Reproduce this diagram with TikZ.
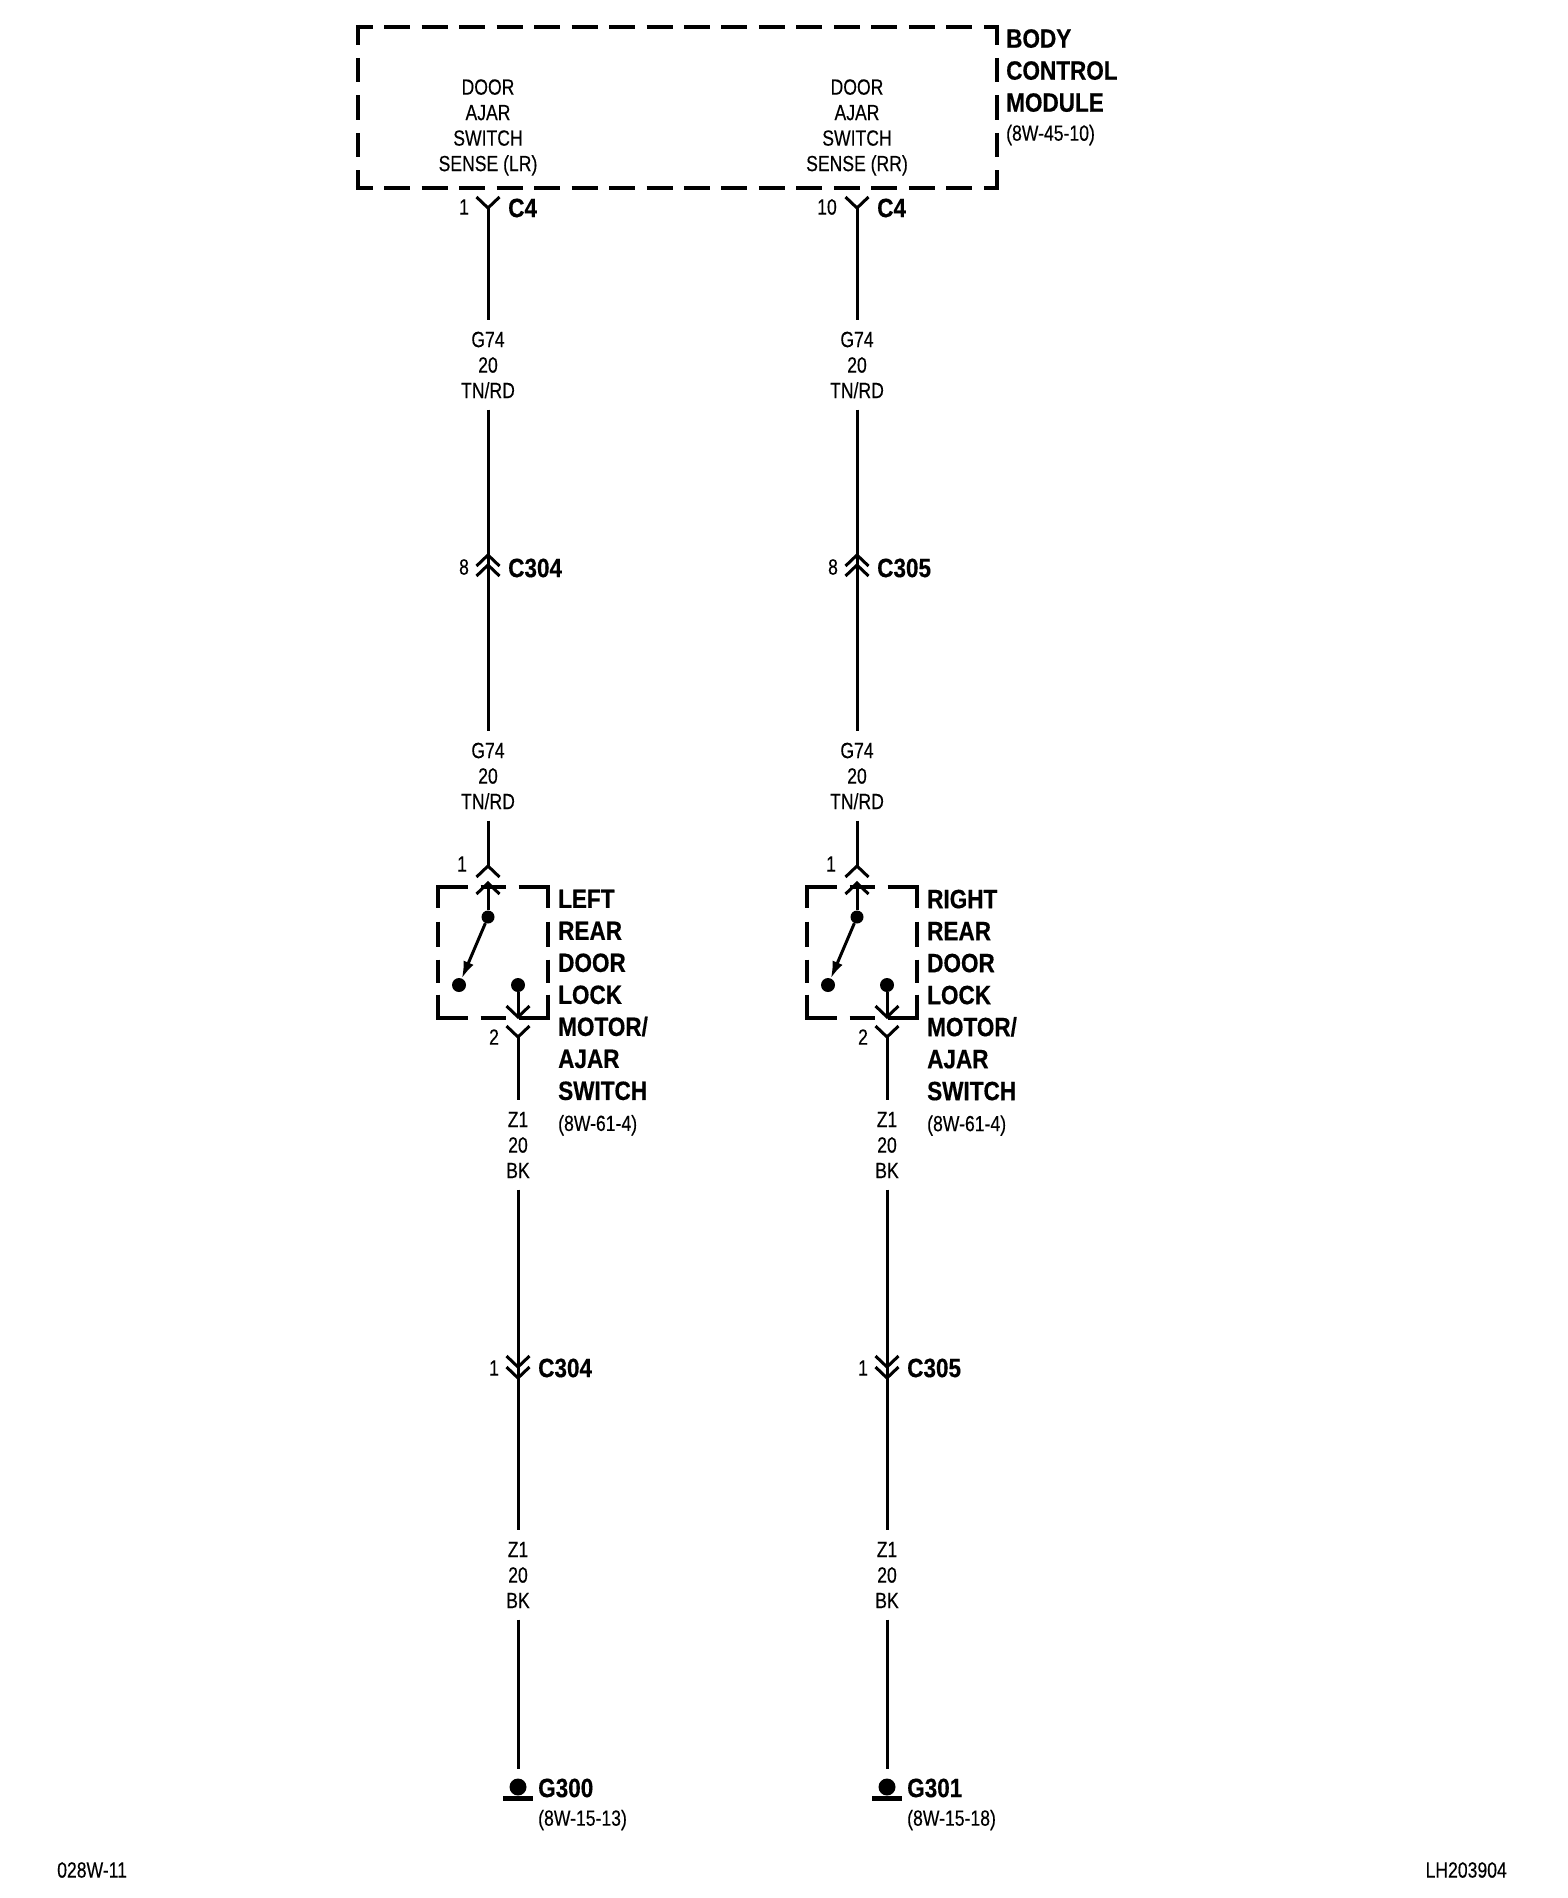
\documentclass[tikz,border=0pt]{standalone}
\usepackage{fontspec}
\setmainfont{Liberation Sans}[FakeStretch=0.8, FakeBold=0.25, BoldFeatures={FakeStretch=0.85, FakeBold=0.4}]
\usetikzlibrary{positioning,arrows.meta}
\tikzset{
  wire/.style = {line width = 3pt},
  tipwire/.style = {wire, -{Latex[length = 17pt, width = 11pt]}},
  bcmh/.style = {line width = 4.5pt, dash pattern = on 26pt off 11.47pt, dash phase = 9pt},
  bcmv/.style = {line width = 4.5pt, dash pattern = on 24.5pt off 13pt, dash phase = 4.5pt},
  swh/.style = {line width = 4.5pt, dash pattern = on 32pt off 12.5pt on 25pt off 13pt on 40pt},
  swv/.style = {line width = 4.5pt, dash pattern = on 23pt off 13.5pt on 25pt off 13pt on 23pt off 12pt on 30pt},
  small/.style = {inner sep = 0pt, font = \fontsize{22}{25.5}\selectfont},
  heavy/.style = {inner sep = 0pt, font = \fontsize{26.5}{32}\bfseries\selectfont},
  wirelab/.style = {small, align = center, minimum height = 89pt, minimum width = 50pt},
  contact/.style = {circle, fill, inner sep = 0pt, minimum size = 14pt},
  earth/.style = {circle, fill, inner sep = 0pt, minimum size = 17pt},
  forkdn/.pic = {\draw[wire] (-11.5,-11) -- (0,0) -- (11.5,-11);},
  forkup/.pic = {\draw[wire] (-11.5,11) -- (0,0) -- (11.5,11);},
}
\begin{document}
\begin{tikzpicture}[x = 1pt, y = -1pt]
\useasboundingbox (0,0) rectangle (1568,1898);
\draw[bcmh] (355.75,27) -- (999.25,27);
\draw[bcmh] (355.75,188) -- (999.25,188);
\draw[bcmv] (358,24.75) -- (358,190.25);
\draw[bcmv] (997,24.75) -- (997,190.25);
\node[small, align = center] (sensel) at (488,127.5) {DOOR\\AJAR\\SWITCH\\SENSE (LR)};
\node[small, align = center] (senser) at (857,127.5) {DOOR\\AJAR\\SWITCH\\SENSE (RR)};
\node[heavy, align = left, anchor = north west] (bcm) at (1006,29) {BODY\\CONTROL\\MODULE\\[-3pt]\fontsize{22}{25.5}\mdseries\selectfont (8W-45-10)};

\coordinate (c4l) at (488,208);
\pic at (c4l) {forkdn};
\node[small] (c4lpin) at (464,207) {1};
\node[heavy, anchor = west] (c4llab) at (508,208) {C4};
\node[wirelab] (g74la) at (488,365) {G74\\20\\TN/RD};
\coordinate (c304la) at (488,555);
\coordinate (c304lb) at (488,565);
\pic at (c304la) {forkup};
\pic at (c304lb) {forkup};
\node[small] (c304lpin) at (464,567) {8};
\node[heavy, anchor = west] (c304llab) at (508,568) {C304};
\node[wirelab] (g74lb) at (488,776) {G74\\20\\TN/RD};
\coordinate (swlt) at (488,866);
\coordinate (swlu) at (488,883);
\pic at (swlt) {forkup};
\pic at (swlu) {forkup};
\node[small] (swlpina) at (462,864) {1};
\draw[wire] (c4l) -- (g74la) -- (c304la);
\draw[wire] (c304la) -- (g74lb) -- (swlt);

\draw[swh] (436,887) -- (550,887);
\draw[swh] (436,1018) -- (550,1018);
\draw[swv] (438,885) -- (438,1020);
\draw[swv] (548,885) -- (548,1020);
\node[contact, minimum size = 13pt] (swlc) at (488,917) {};
\node[contact] (swln) at (459,985) {};
\node[contact] (swlm) at (518,985) {};
\draw[wire] (swlu) -- (swlc);
\draw[tipwire] (swlc) -- (swln);
\coordinate (swlb) at (518,1017);
\pic at (swlb) {forkdn};
\draw[wire] (swlm) -- (swlb);
\coordinate (swld) at (518,1037);
\pic at (swld) {forkdn};
\node[small] (swlpinb) at (494,1037) {2};
\node[heavy, align = left, anchor = north west] (swllab) at (558,889.5) {LEFT\\REAR\\DOOR\\LOCK\\MOTOR/\\AJAR\\SWITCH\\[-1pt]\fontsize{22}{25.5}\mdseries\selectfont (8W-61-4)};
\node[wirelab] (z1la) at (518,1145) {Z1\\20\\BK};
\coordinate (c304lc) at (518,1367);
\coordinate (c304ld) at (518,1378);
\pic at (c304lc) {forkdn};
\pic at (c304ld) {forkdn};
\node[small] (c304lpinb) at (494,1368) {1};
\node[heavy, anchor = west] (c304llabb) at (538,1368) {C304};
\node[wirelab] (z1lb) at (518,1575) {Z1\\20\\BK};
\coordinate (g300t) at (518,1769);
\node[earth] (g300) at (518,1787) {};
\draw[line width = 5pt] (503,1798) -- (533,1798);
\node[heavy, anchor = west] (g300lab) at (538,1788) {G300};
\node[small, anchor = west] (g300ref) at (538,1820) {(8W-15-13)};
\draw[wire] (swld) -- (z1la) -- (c304ld);
\draw[wire] (c304ld) -- (z1lb) -- (g300t);

\coordinate (c4r) at (857,208);
\pic at (c4r) {forkdn};
\node[small] (c4rpin) at (827,207) {10};
\node[heavy, anchor = west] (c4rlab) at (877,208) {C4};
\node[wirelab] (g74ra) at (857,365) {G74\\20\\TN/RD};
\coordinate (c305ra) at (857,555);
\coordinate (c305rb) at (857,565);
\pic at (c305ra) {forkup};
\pic at (c305rb) {forkup};
\node[small] (c305rpin) at (833,567) {8};
\node[heavy, anchor = west] (c305rlab) at (877,568) {C305};
\node[wirelab] (g74rb) at (857,776) {G74\\20\\TN/RD};
\coordinate (swrt) at (857,866);
\coordinate (swru) at (857,883);
\pic at (swrt) {forkup};
\pic at (swru) {forkup};
\node[small] (swrpina) at (831,864) {1};
\draw[wire] (c4r) -- (g74ra) -- (c305ra);
\draw[wire] (c305ra) -- (g74rb) -- (swrt);

\draw[swh] (805,887) -- (919,887);
\draw[swh] (805,1018) -- (919,1018);
\draw[swv] (807,885) -- (807,1020);
\draw[swv] (917,885) -- (917,1020);
\node[contact, minimum size = 13pt] (swrc) at (857,917) {};
\node[contact] (swrn) at (828,985) {};
\node[contact] (swrm) at (887,985) {};
\draw[wire] (swru) -- (swrc);
\draw[tipwire] (swrc) -- (swrn);
\coordinate (swrb) at (887,1017);
\pic at (swrb) {forkdn};
\draw[wire] (swrm) -- (swrb);
\coordinate (swrd) at (887,1037);
\pic at (swrd) {forkdn};
\node[small] (swrpinb) at (863,1037) {2};
\node[heavy, align = left, anchor = north west] (swrlab) at (927,889.5) {RIGHT\\REAR\\DOOR\\LOCK\\MOTOR/\\AJAR\\SWITCH\\[-1pt]\fontsize{22}{25.5}\mdseries\selectfont (8W-61-4)};
\node[wirelab] (z1ra) at (887,1145) {Z1\\20\\BK};
\coordinate (c305rc) at (887,1367);
\coordinate (c305rd) at (887,1378);
\pic at (c305rc) {forkdn};
\pic at (c305rd) {forkdn};
\node[small] (c305rpinb) at (863,1368) {1};
\node[heavy, anchor = west] (c305rlabb) at (907,1368) {C305};
\node[wirelab] (z1rb) at (887,1575) {Z1\\20\\BK};
\coordinate (g301t) at (887,1769);
\node[earth] (g301) at (887,1787) {};
\draw[line width = 5pt] (872,1798) -- (902,1798);
\node[heavy, anchor = west] (g301lab) at (907,1788) {G301};
\node[small, anchor = west] (g301ref) at (907,1820) {(8W-15-18)};
\draw[wire] (swrd) -- (z1ra) -- (c305rd);
\draw[wire] (c305rd) -- (z1rb) -- (g301t);

\node[small, anchor = west] (fignum) at (57,1870) {028W-11};
\node[small, anchor = east] (figref) at (1507,1870) {LH203904};
\end{tikzpicture}
\end{document}
